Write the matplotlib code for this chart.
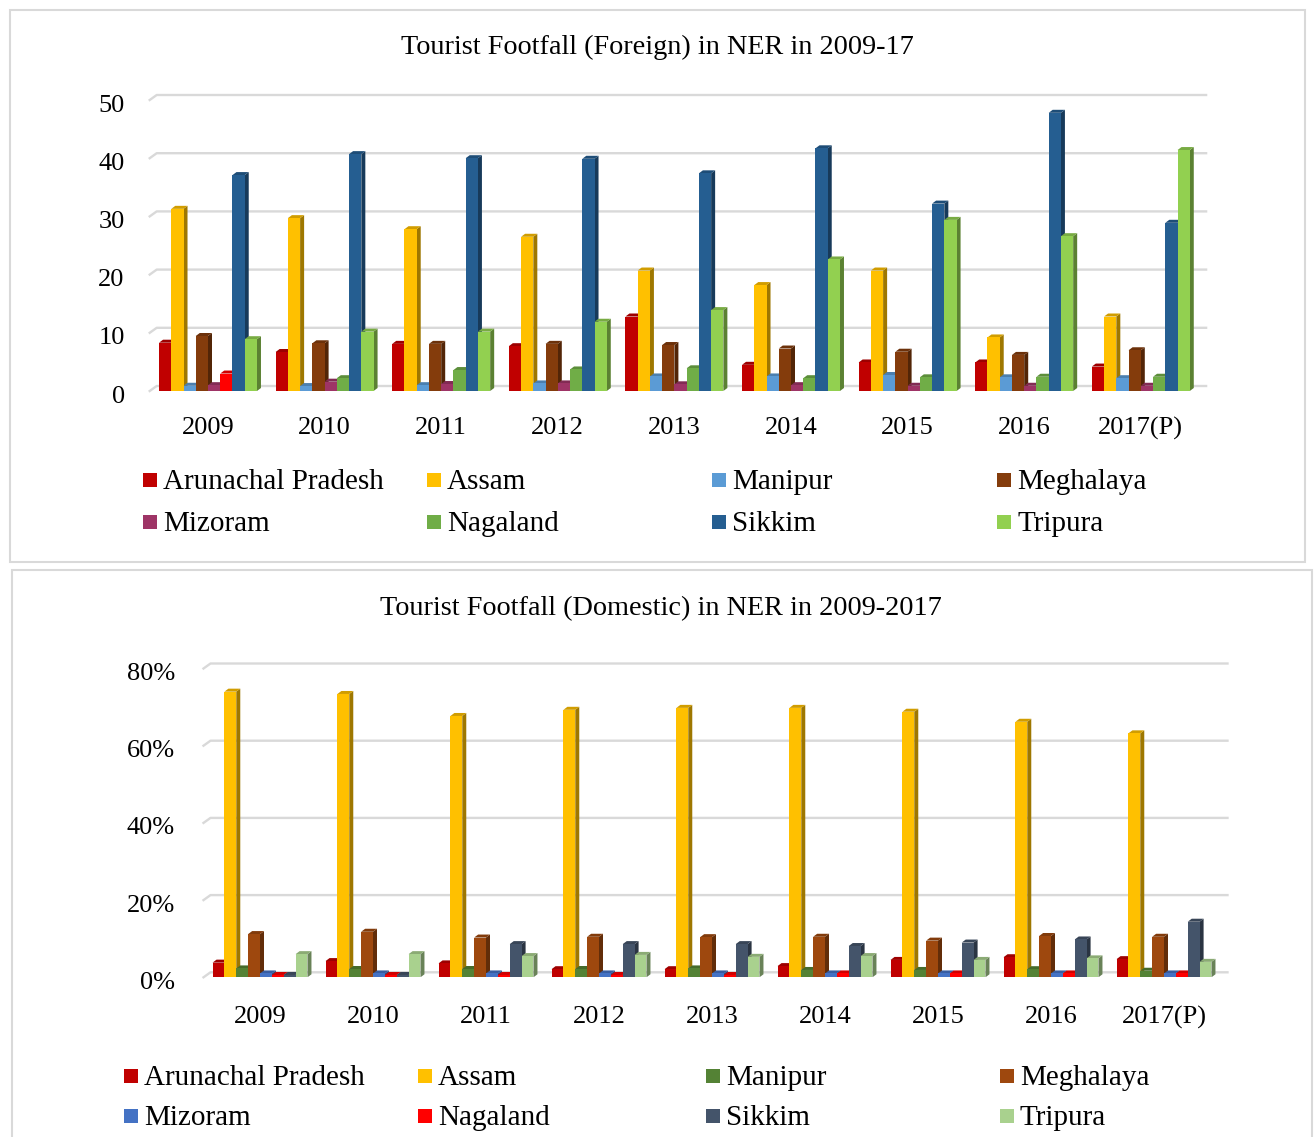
import matplotlib

matplotlib.use("Agg")
import matplotlib.colors as mcolors
import matplotlib.pyplot as plt
import matplotlib.transforms as mtransforms
import numpy as np
from matplotlib.patches import Polygon, Rectangle

W, H = 1314, 1137

years = ["2009", "2010", "2011", "2012", "2013", "2014", "2015", "2016", "2017(P)"]
states = ["Arunachal Pradesh", "Assam", "Manipur", "Meghalaya",
          "Mizoram", "Nagaland", "Sikkim", "Tripura"]

# foreign tourist footfall (share, %)
f_arunachal = [8.3, 6.7, 8.1, 7.7, 12.8, 4.5, 4.9, 4.9, 4.2]
f_assam = [31.3, 29.7, 27.8, 26.5, 20.7, 18.2, 20.7, 9.2, 12.8]
f_manipur = [0.9, 0.85, 1.0, 1.3, 2.5, 2.5, 2.75, 2.35, 2.2]
f_meghalaya = [9.45, 8.2, 8.1, 8.1, 7.9, 7.3, 6.75, 6.2, 7.0]
f_mizoram = [1.0, 1.6, 1.2, 1.3, 1.15, 1.0, 0.9, 0.9, 0.9]
f_nagaland = [3.0, 2.2, 3.6, 3.7, 3.9, 2.2, 2.35, 2.45, 2.45]
f_sikkim = [37.1, 40.7, 40.0, 39.9, 37.4, 41.7, 32.2, 47.8, 28.9]
f_tripura = [8.9, 10.2, 10.2, 11.9, 13.9, 22.6, 29.4, 26.6, 41.4]

# domestic tourist footfall (share, %)
d_arunachal = [3.8, 4.2, 3.6, 2.1, 2.1, 2.9, 4.5, 5.2, 4.7]
d_assam = [74.0, 73.4, 67.7, 69.3, 69.8, 69.8, 68.8, 66.2, 63.2]
d_manipur = [2.3, 2.15, 2.15, 2.15, 2.3, 1.9, 1.9, 2.1, 1.7]
d_meghalaya = [11.2, 11.8, 10.3, 10.5, 10.4, 10.5, 9.5, 10.7, 10.5]
d_mizoram = [1.0, 1.0, 1.0, 1.0, 1.0, 1.0, 1.0, 1.0, 1.0]
d_nagaland = [0.6, 0.6, 0.6, 0.6, 0.6, 1.0, 1.0, 1.0, 1.0]
d_sikkim = [0.6, 0.6, 8.6, 8.6, 8.6, 8.1, 9.0, 9.8, 14.4]
d_tripura = [6.0, 6.0, 5.5, 5.8, 5.3, 5.5, 4.5, 4.9, 4.0]

f_colors = ["#C00000", "#FFC000", "#5B9BD5", "#843C0C",
            "#9E3466", "#70AD47", "#255E91", "#92D050"]
d_colors = ["#C00000", "#FFC000", "#548235", "#9E480E",
            "#4472C4", "#FF0000", "#44546A", "#A9D18E"]
# Nagaland 2009 point is coloured differently in the foreign chart
f_point_colors = {(5, 0): "#FF0000"}

plt.rcParams["font.family"] = ["Liberation Serif", "DejaVu Serif"]
GRID = "#d9d9d9"


def frac(left, top, width, height):
    return [left / W, 1 - (top + height) / H, width / W, height / H]


def shade(c, k):
    r, g, b = mcolors.to_rgb(c)
    return (r * k, g * k, b * k)


def bars_3d(ax, series, colors, point_colors, ticks, labels, ylab_pad, xlab_pad):
    n = len(series)
    bw = 0.105
    x = np.arange(len(years))
    ax.set_xlim(-0.5, len(years) - 0.5)
    ax.set_ylim(0, ticks[-1])
    pos = ax.get_position()
    ux = (len(years)) / (pos.width * W)
    uy = ticks[-1] / (pos.height * H)
    dx, dy = 4 * ux, 3 * uy      # bar depth
    gx, gy = 7 * ux, 5 * uy      # back wall offset

    for v in ticks:
        ax.plot([-0.5, -0.5 + gx, len(years) - 0.5 + gx], [v, v + gy, v + gy],
                color=GRID, lw=1.7, zorder=1, clip_on=False)

    for i, (vals, col) in enumerate(zip(series, colors)):
        xs = x + (i - (n - 1) / 2) * bw
        cols = [point_colors.get((i, j), col) for j in range(len(vals))]
        ax.bar(xs, vals, bw, color=cols, lw=0, zorder=4)
        for xc, v, c in zip(xs, vals, cols):
            l, r = xc - bw / 2, xc + bw / 2
            ax.add_patch(Polygon([(r, 0), (r + dx, dy), (r + dx, v + dy), (r, v)],
                                 closed=True, fc=shade(c, 0.62), lw=0, zorder=2))
            ax.add_patch(Polygon([(l, v), (r, v), (r + dx, v + dy), (l + dx, v + dy)],
                                 closed=True, fc=shade(c, 0.82), lw=0, zorder=3))

    ax.set_xticks(x, years)
    ax.set_yticks(ticks, labels)
    ax.tick_params(axis="y", length=0, pad=ylab_pad, labelsize=19)
    ax.tick_params(axis="x", length=0, pad=xlab_pad, labelsize=19)
    shift = mtransforms.ScaledTranslation(0, -3 / 100, fig.dpi_scale_trans)
    for lab in ax.get_yticklabels():
        lab.set_transform(lab.get_transform() + shift)
    for s in ax.spines.values():
        s.set_visible(False)
    ax.patch.set_alpha(0)


def legend(fig, colors, xs, ys):
    for k, (name, c) in enumerate(zip(states, colors)):
        px, py = xs[k % 4], ys[k // 4]
        fig.patches.append(Rectangle((px / W, 1 - (py + 7) / H), 14 / W, 14 / H,
                                     transform=fig.transFigure, fc=c, lw=0))
        fig.text((px + 20) / W, 1 - (py + 2) / H, name, fontsize=21,
                 va="center", ha="left")


fig = plt.figure(figsize=(W / 100, H / 100), dpi=100)

# panel frames
fig.patches.append(Rectangle((10 / W, 1 - 562 / H), 1295 / W, 552 / H,
                             transform=fig.transFigure, fill=False, ec=GRID, lw=1.5))
fig.patches.append(Rectangle((12 / W, 1 - 1140 / H), 1300 / W, 570 / H,
                             transform=fig.transFigure, fill=False, ec=GRID, lw=1.5))

# foreign
ax1 = fig.add_axes(frac(149.7, 100, 9 * 116.6, 291))
bars_3d(ax1, [f_arunachal, f_assam, f_manipur, f_meghalaya,
              f_mizoram, f_nagaland, f_sikkim, f_tripura],
        f_colors, f_point_colors, [0, 10, 20, 30, 40, 50],
        ["0", "10", "20", "30", "40", "50"], 18, 19)
fig.text(657 / W, 1 - 47 / H, "Tourist Footfall (Foreign) in NER in 2009-17",
         fontsize=20.3, ha="center", va="center")
legend(fig, f_colors, [143, 427, 712, 997], [480, 522])

# domestic
ax2 = fig.add_axes(frac(203.5, 977.3 - 308.8, 9 * 113, 308.8))
bars_3d(ax2, [d_arunachal, d_assam, d_manipur, d_meghalaya,
              d_mizoram, d_nagaland, d_sikkim, d_tripura],
        d_colors, {}, [0, 20, 40, 60, 80],
        ["0%", "20%", "40%", "60%", "80%"], 20.5, 20.5)
fig.text(661 / W, 1 - 609 / H, "Tourist Footfall (Domestic) in NER in 2009-2017",
         fontsize=20.3, ha="center", va="center")
legend(fig, d_colors, [124, 418, 706, 1000], [1076, 1116])

fig.savefig("out.png", dpi=100)
